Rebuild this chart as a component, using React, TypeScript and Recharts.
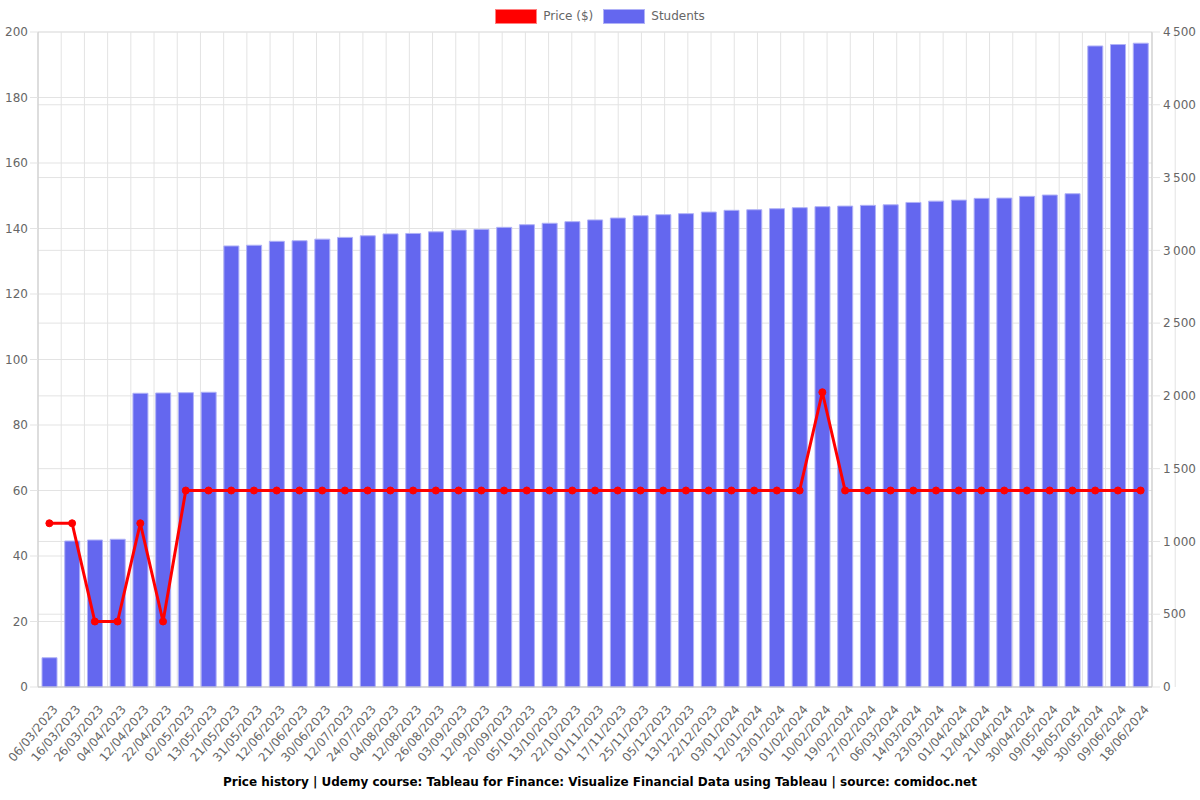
import { Bar, CartesianGrid, ComposedChart, Legend, Line, XAxis, YAxis } from "recharts"

const dates = [
  "06/03/2023", "16/03/2023", "26/03/2023", "04/04/2023", "12/04/2023", "22/04/2023", "02/05/2023",
  "13/05/2023", "21/05/2023", "31/05/2023", "12/06/2023", "21/06/2023", "30/06/2023", "12/07/2023",
  "24/07/2023", "04/08/2023", "12/08/2023", "26/08/2023", "03/09/2023", "12/09/2023", "20/09/2023",
  "05/10/2023", "13/10/2023", "22/10/2023", "01/11/2023", "17/11/2023", "25/11/2023", "05/12/2023",
  "13/12/2023", "22/12/2023", "03/01/2024", "12/01/2024", "23/01/2024", "01/02/2024", "10/02/2024",
  "19/02/2024", "27/02/2024", "06/03/2024", "14/03/2024", "23/03/2024", "01/04/2024", "12/04/2024",
  "21/04/2024", "30/04/2024", "09/05/2024", "18/05/2024", "30/05/2024", "09/06/2024", "18/06/2024",
]

const students = [
  201, 1003, 1010, 1015, 2018, 2020, 2022, 2025, 3030, 3035, 3062, 3066, 3077, 3089, 3100, 3113, 3116,
  3127, 3139, 3144, 3158, 3176, 3186, 3197, 3209, 3222, 3238, 3245, 3252, 3263, 3275, 3279, 3286, 3293,
  3300, 3304, 3309, 3313, 3329, 3338, 3345, 3357, 3359, 3371, 3380, 3389, 4404, 4414, 4423,
]

const prices = [
  50, 50, 20, 20, 50, 20, 60, 60, 60, 60, 60, 60, 60, 60, 60, 60, 60, 60, 60, 60, 60, 60, 60, 60, 60,
  60, 60, 60, 60, 60, 60, 60, 60, 60, 90, 60, 60, 60, 60, 60, 60, 60, 60, 60, 60, 60, 60, 60, 60,
]

const priceTicks = [0, 20, 40, 60, 80, 100, 120, 140, 160, 180, 200]
const studentTicks = [0, 500, 1000, 1500, 2000, 2500, 3000, 3500, 4000, 4500]

const title =
  "Price history | Udemy course: Tableau for Finance: Visualize Financial Data using Tableau | source: comidoc.net"

const data = dates.map((date, i) => ({ date, price: prices[i], students: students[i] }))
const boundaryTicks = [...dates.map((_, i) => i), dates.length]

const FONT = "'DejaVu Sans', sans-serif"
const TEXT = "#666"
const GRID = "#e3e3e3"
const AXIS = "#c9c9c9"
const RED = "#ff0000"
const BLUE = "#6467ef"

const fmtStudents = (v: number) => (v >= 1000 ? `${Math.floor(v / 1000)}\u202f${String(v % 1000).padStart(3, "0")}` : `${v}`)

function DateTick({ x, y, payload }: any) {
  const ax = x + 6
  const ay = y + 12
  return (
    <text
      x={ax}
      y={ay}
      textAnchor="end"
      dominantBaseline="central"
      fill={TEXT}
      fontSize={12}
      fontFamily={FONT}
      transform={`rotate(-50, ${ax}, ${ay})`}
    >
      {payload.value}
    </text>
  )
}

function BoundaryTick({ x, y }: any) {
  return <line x1={x} x2={x} y1={y - 8} y2={y} stroke={GRID} />
}

function LegendBox() {
  const items = [
    { label: "Price ($)", color: RED, border: "#ff8080" },
    { label: "Students", color: BLUE, border: "#b0b2f7" },
  ]
  return (
    <div style={{ display: "flex", justifyContent: "center", gap: 10, height: 24, fontFamily: FONT, fontSize: 12, color: TEXT }}>
      {items.map((it) => (
        <div key={it.label} style={{ display: "flex", alignItems: "center", gap: 6, height: 16 }}>
          <span style={{ display: "inline-block", width: 40, height: 13, background: it.color, border: `1px solid ${it.border}` }} />
          <span>{it.label}</span>
        </div>
      ))}
    </div>
  )
}

export default function App() {
  return (
    <div style={{ position: "absolute", left: 0, top: 0, width: 1200, height: 800, background: "#fff" }}>
      <ComposedChart width={1200} height={800} data={data} margin={{ top: 8, right: 0, bottom: 33, left: 0 }}>
        <XAxis
          xAxisId="grid"
          type="number"
          domain={[0, dates.length]}
          ticks={boundaryTicks}
          allowDataOverflow
          height={0}
          tick={<BoundaryTick />}
          tickSize={8}
          tickMargin={0}
          tickLine={false}
          axisLine={false}
        />
        <XAxis
          xAxisId="main"
          dataKey="date"
          interval={0}
          height={80}
          tick={<DateTick />}
          tickLine={false}
          axisLine={{ stroke: AXIS }}
        />
        <CartesianGrid xAxisId="grid" yAxisId="left" stroke={GRID} />
        <CartesianGrid xAxisId="grid" yAxisId="right" stroke={GRID} vertical={false} />
        <YAxis
          yAxisId="left"
          orientation="left"
          width={38}
          domain={[0, 200]}
          ticks={priceTicks}
          interval={0}
          tickSize={8}
          tickMargin={2}
          tickLine={{ stroke: GRID }}
          axisLine={{ stroke: AXIS }}
          tick={{ fill: TEXT, fontSize: 12, fontFamily: FONT }}
        />
        <YAxis
          yAxisId="right"
          orientation="right"
          width={48}
          domain={[0, 4500]}
          ticks={studentTicks}
          interval={0}
          tickSize={8}
          tickMargin={3}
          tickFormatter={fmtStudents}
          tickLine={{ stroke: GRID }}
          axisLine={{ stroke: AXIS }}
          tick={{ fill: TEXT, fontSize: 12, fontFamily: FONT }}
        />
        <Legend verticalAlign="top" content={<LegendBox />} />
        <Bar
          xAxisId="main"
          yAxisId="right"
          dataKey="students"
          name="Students"
          fill={BLUE}
          stroke="#b0b2f7"
          strokeWidth={1}
          barSize={15}
          isAnimationActive={false}
        />
        <Line
          xAxisId="main"
          yAxisId="left"
          dataKey="price"
          name="Price ($)"
          stroke={RED}
          strokeWidth={3}
          dot={{ r: 3.5, fill: RED, stroke: RED, strokeWidth: 1 }}
          activeDot={false}
          isAnimationActive={false}
        />
      </ComposedChart>
      <div
        style={{
          position: "absolute",
          left: 0,
          width: 1200,
          top: 775,
          textAlign: "center",
          fontFamily: FONT,
          fontSize: 12,
          fontWeight: "bold",
          color: "#000",
        }}
      >
        {title}
      </div>
    </div>
  )
}
